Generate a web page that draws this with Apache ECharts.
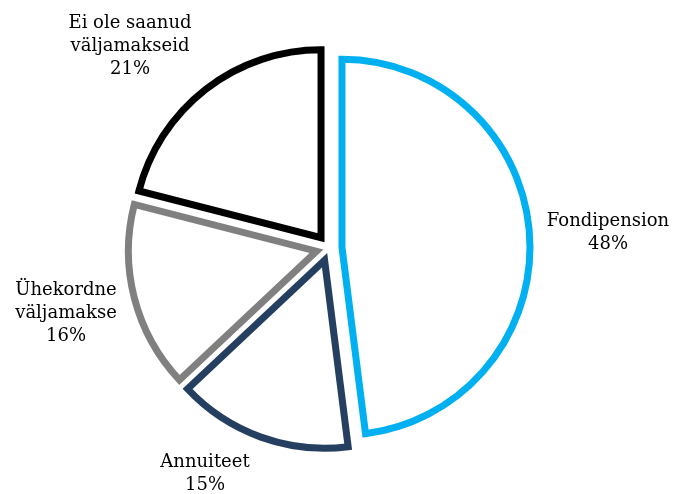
<!DOCTYPE html>
<html>
<head>
<meta charset="utf-8">
<script src="https://cdn.jsdelivr.net/npm/echarts@6/dist/echarts.min.js"></script>
<style>html,body{margin:0;padding:0;background:#fff}#c{width:673px;height:494px}</style>
</head>
<body>
<div id="c"></div>
<script>
const categories = ['Fondipension', 'Annuiteet', 'Ühekordne\nväljamakse', 'Ei ole saanud\nväljamakseid'];
const values = [48, 15, 16, 21];
const colors = ['#00B0F0', '#243F60', '#808080', '#000000'];
const labelCenters = [[608, 233], [205, 474], [66, 313], [130, 46]];

const chart = echarts.init(document.getElementById('c'), null, {renderer: 'canvas'});
const data = categories.map((name, i) => {
  const style = {color: '#ffffff', borderColor: colors[i], borderWidth: 7, borderJoin: 'miter', borderMiterLimit: 10};
  return {name: name, value: values[i], selected: true, itemStyle: style, select: {itemStyle: style}};
});
chart.setOption({
  animation: false,
  backgroundColor: '#ffffff',
  series: [{
    type: 'pie',
    center: [329, 248],
    radius: [0, 188],
    startAngle: 90,
    clockwise: true,
    selectedMode: 'multiple',
    selectedOffset: 13,
    avoidLabelOverlap: false,
    emphasis: {disabled: true},
    label: {show: false},
    labelLine: {show: false},
    data: data
  }],
  graphic: categories.map((name, i) => ({
    type: 'text',
    x: labelCenters[i][0],
    y: labelCenters[i][1],
    silent: true,
    style: {
      text: name + '\n' + values[i] + '%',
      fontFamily: 'DejaVu Serif',
      fontSize: 18,
      lineHeight: 23,
      fill: '#000000',
      align: 'center',
      verticalAlign: 'middle'
    }
  }))
});
</script>
</body>
</html>
